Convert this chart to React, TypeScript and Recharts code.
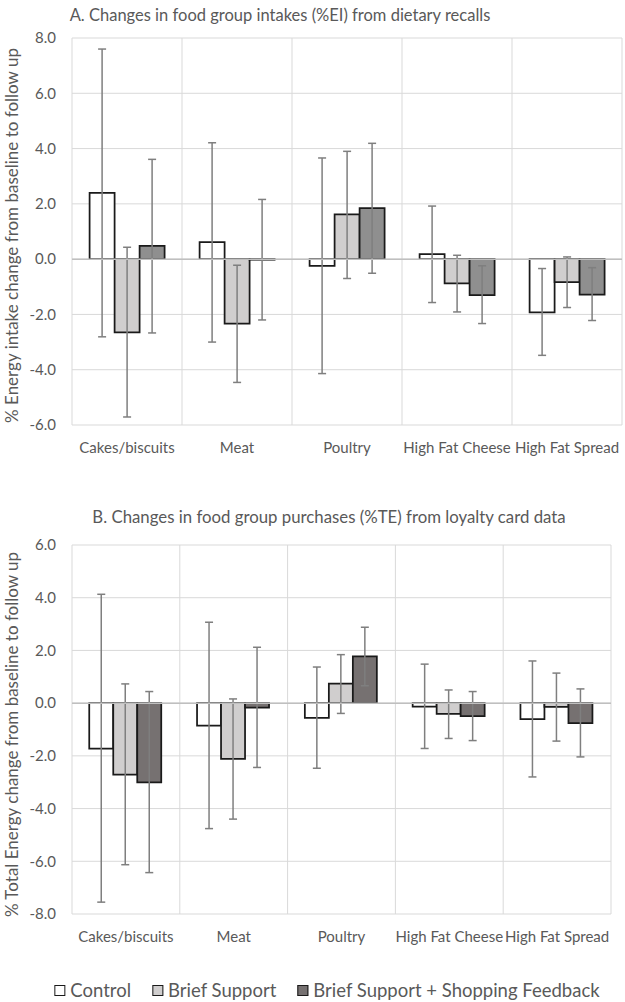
import * as React from "react";
import {
  Bar,
  BarChart,
  CartesianGrid,
  ErrorBar,
  ReferenceLine,
  XAxis,
  YAxis,
} from "recharts";

const categories = ["Cakes/biscuits", "Meat", "Poultry", "High Fat Cheese", "High Fat Spread"];

// A. dietary recalls (%EI): mean change and 95% CI bounds
const controlA = [2.4, 0.62, -0.24, 0.18, -1.93];
const controlALow = [-2.81, -3.0, -4.14, -1.57, -3.48];
const controlAHigh = [7.6, 4.21, 3.66, 1.92, -0.34];
const briefA = [-2.65, -2.33, 1.62, -0.88, -0.83];
const briefALow = [-5.71, -4.46, -0.7, -1.91, -1.75];
const briefAHigh = [0.43, -0.22, 3.9, 0.14, 0.08];
const feedbackA = [0.48, -0.02, 1.85, -1.3, -1.28];
const feedbackALow = [-2.67, -2.2, -0.51, -2.33, -2.22];
const feedbackAHigh = [3.61, 2.16, 4.19, -0.24, -0.31];

// B. loyalty card data (%TE)
const controlB = [-1.73, -0.85, -0.56, -0.13, -0.61];
const controlBLow = [-7.55, -4.76, -2.47, -1.72, -2.8];
const controlBHigh = [4.13, 3.07, 1.37, 1.48, 1.6];
const briefB = [-2.71, -2.11, 0.74, -0.41, -0.14];
const briefBLow = [-6.13, -4.4, -0.39, -1.34, -1.44];
const briefBHigh = [0.73, 0.16, 1.84, 0.5, 1.14];
const feedbackB = [-3.01, -0.17, 1.77, -0.49, -0.76];
const feedbackBLow = [-6.43, -2.44, 0.66, -1.42, -2.04];
const feedbackBHigh = [0.44, 2.12, 2.88, 0.44, 0.54];

const ticksA = [-6, -4, -2, 0, 2, 4, 6, 8];
const ticksB = [-8, -6, -4, -2, 0, 2, 4, 6];

const seriesNames = ["Control", "Brief Support", "Brief Support + Shopping Feedback"];

const FONT = "Lato, 'Open Sans', sans-serif";
const TEXT = "#595959";

function rows(
  c: number[], cl: number[], ch: number[],
  b: number[], bl: number[], bh: number[],
  f: number[], fl: number[], fh: number[],
) {
  return categories.map((name, i) => ({
    name,
    control: c[i],
    controlErr: [c[i] - cl[i], ch[i] - c[i]],
    brief: b[i],
    briefErr: [b[i] - bl[i], bh[i] - b[i]],
    feedback: f[i],
    feedbackErr: [f[i] - fl[i], fh[i] - f[i]],
  }));
}

const dataA = rows(controlA, controlALow, controlAHigh, briefA, briefALow, briefAHigh, feedbackA, feedbackALow, feedbackAHigh);
const dataB = rows(controlB, controlBLow, controlBHigh, briefB, briefBLow, briefBHigh, feedbackB, feedbackBLow, feedbackBHigh);

function YTitle(props: any) {
  const { viewBox, value, shift } = props;
  const cy = viewBox.y + viewBox.height / 2 + shift;
  return (
    <text
      x={11}
      y={cy}
      transform={`rotate(-90 11 ${cy})`}
      textAnchor="middle"
      dominantBaseline="central"
      fill={TEXT}
      fontSize={17}
    >
      {value}
    </text>
  );
}

function Panel(props: {
  data: any[];
  width: number;
  height: number;
  margin: { top: number; right: number; bottom: number; left: number };
  ticks: number[];
  yTitle: string;
  titleShift: number;
  darkFill: string;
}) {
  const { data, ticks, yTitle, darkFill, titleShift } = props;
  const errStyle = { stroke: "#7f7f7f", strokeWidth: 1.5, width: 4 };
  return (
    <BarChart
      width={props.width}
      height={props.height}
      data={data}
      margin={props.margin}
      barCategoryGap="16%"
      barGap={0}
    >
      <CartesianGrid
        stroke="#d9d9d9"
        strokeWidth={1}
        verticalCoordinatesGenerator={({ offset }: any) =>
          [0, 1, 2, 3, 4, 5].map((i) => offset.left + (i * offset.width) / categories.length)
        }
      />
      <XAxis
        dataKey="name"
        axisLine={false}
        tickLine={false}
        tickMargin={11}
        height={30}
        interval={0}
        tick={{ fill: TEXT, fontSize: 15 }}
      />
      <YAxis
        domain={[ticks[0], ticks[ticks.length - 1]]}
        ticks={ticks}
        tickFormatter={(v: number) => v.toFixed(1)}
        axisLine={false}
        tickLine={false}
        tickMargin={10}
        width={40}
        tick={{ fill: TEXT, fontSize: 15 }}
        label={{ value: yTitle, content: (p: any) => <YTitle {...p} value={yTitle} shift={titleShift} /> }}
      />
      <Bar dataKey="control" name={seriesNames[0]} fill="#ffffff" stroke="#1a1a1a" strokeWidth={1.75} isAnimationActive={false}>
        <ErrorBar dataKey="controlErr" direction="y" {...errStyle} />
      </Bar>
      <Bar dataKey="brief" name={seriesNames[1]} fill="#d0cece" stroke="#1a1a1a" strokeWidth={1.75} isAnimationActive={false}>
        <ErrorBar dataKey="briefErr" direction="y" {...errStyle} />
      </Bar>
      <Bar dataKey="feedback" name={seriesNames[2]} fill={darkFill} stroke="#1a1a1a" strokeWidth={1.75} isAnimationActive={false}>
        <ErrorBar dataKey="feedbackErr" direction="y" {...errStyle} />
      </Bar>
      <ReferenceLine y={0} stroke="#bfbfbf" strokeWidth={1.5} />
    </BarChart>
  );
}

const legendFills = ["#ffffff", "#d0cece", "#767171"];

export default function App() {
  return (
    <div
      style={{
        position: "absolute",
        top: 0,
        left: 0,
        width: 625,
        height: 1002,
        background: "#fff",
        fontFamily: FONT,
        color: TEXT,
      }}
    >
      <div style={{ position: "absolute", top: 5, left: 280, transform: "translateX(-50%)", whiteSpace: "nowrap", fontSize: 16.5 }}>
        A. Changes in food group intakes (%EI) from dietary recalls
      </div>
      <div style={{ position: "absolute", top: 0, left: 0 }}>
        <Panel
          data={dataA}
          width={625}
          height={470}
          margin={{ top: 38, right: 3, bottom: 15, left: 32 }}
          ticks={ticksA}
          yTitle="% Energy intake change from baseline to follow up"
          titleShift={4}
          darkFill="#8f8f8f"
        />
      </div>
      <div style={{ position: "absolute", top: 506, left: 329, transform: "translateX(-50%)", whiteSpace: "nowrap", fontSize: 16.8 }}>
        B. Changes in food group purchases (%TE) from loyalty card data
      </div>
      <div style={{ position: "absolute", top: 470, left: 0 }}>
        <Panel
          data={dataB}
          width={625}
          height={532}
          margin={{ top: 75, right: 14, bottom: 58, left: 32 }}
          ticks={ticksB}
          yTitle="% Total Energy change from baseline to follow up"
          titleShift={5}
          darkFill="#767171"
        />
      </div>
      <div
        style={{
          position: "absolute",
          top: 978,
          left: 327,
          transform: "translateX(-50%)",
          display: "flex",
          alignItems: "center",
          gap: 21,
          whiteSpace: "nowrap",
          fontSize: 18.5,
          lineHeight: "24px",
        }}
      >
        {seriesNames.map((n, i) => (
          <div key={n} style={{ display: "flex", alignItems: "center", gap: 5 }}>
            <span style={{ display: "inline-block", width: 9, height: 9, background: legendFills[i], border: "1.5px solid #1a1a1a" }} />
            <span>{n}</span>
          </div>
        ))}
      </div>
    </div>
  );
}
